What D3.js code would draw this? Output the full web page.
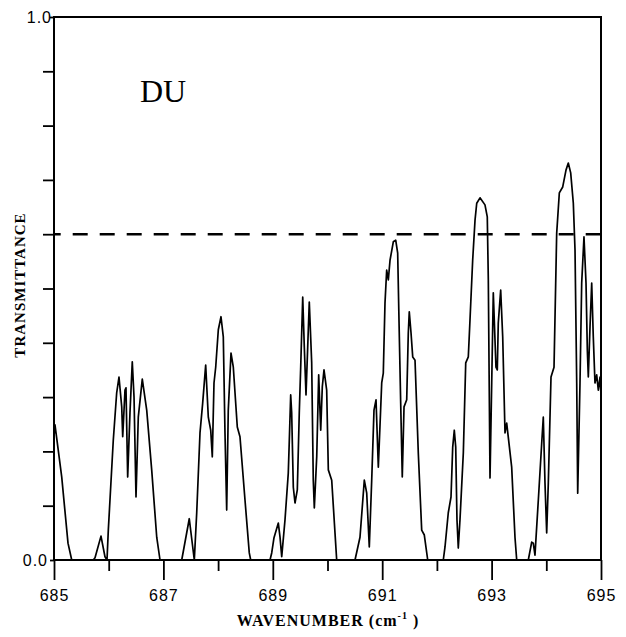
<!DOCTYPE html>
<html>
<head>
<meta charset="utf-8">
<script src="https://cdn.jsdelivr.net/npm/d3@7"></script>
<style>
  body { margin: 0; background: #fff; }
  .tick text { font-family: "Liberation Sans", Arial, sans-serif; }
</style>
</head>
<body>
<div id="chart"></div>
<script>
// transmittance spectrum, one array per band group
const band685 = [[685.000, 0.227], [685.018, 0.249], [685.141, 0.153], [685.256, 0.031], [685.324, 0], [685.718, 0],
    [685.750, 0.004], [685.859, 0.044], [685.932, 0.006], [685.969, 0]];
const band686 = [[685.993, 0.055], [686.084, 0.221], [686.146, 0.308], [686.188, 0.337], [686.238, 0.282], [686.256, 0.227],
    [686.298, 0.313], [686.316, 0.317], [686.347, 0.153], [686.389, 0.271], [686.431, 0.365], [686.463, 0.300],
    [686.499, 0.116], [686.541, 0.263], [686.614, 0.333], [686.695, 0.276], [686.786, 0.166], [686.878, 0.042],
    [686.938, 0], [687.335, 0], [687.473, 0.076], [687.565, 0]];
const band688 = [[687.609, 0.087], [687.669, 0.234], [687.718, 0.289], [687.773, 0.359], [687.821, 0.263], [687.865, 0.239],
    [687.894, 0.190], [687.925, 0.326], [687.956, 0.355], [688.004, 0.424], [688.053, 0.448], [688.095, 0.411],
    [688.126, 0.234], [688.157, 0.092], [688.186, 0.276], [688.236, 0.381], [688.278, 0.355], [688.351, 0.245],
    [688.400, 0.227], [688.492, 0.110], [688.570, 0.013], [688.596, 0], [688.949, 0], [688.980, 0.013],
    [689.022, 0.041], [689.101, 0.068], [689.132, 0.042], [689.163, 0.006]];
const band689 = [[689.223, 0.074], [689.283, 0.160], [689.302, 0.221], [689.327, 0.304], [689.345, 0.271], [689.375, 0.134],
    [689.406, 0.105], [689.448, 0.129], [689.484, 0.271], [689.510, 0.355], [689.547, 0.484], [689.576, 0.392],
    [689.607, 0.304], [689.638, 0.392], [689.667, 0.475], [689.711, 0.363], [689.740, 0.147], [689.759, 0.096],
    [689.803, 0.190], [689.839, 0.341], [689.876, 0.239], [689.905, 0.319], [689.936, 0.350], [689.985, 0.313],
    [690.015, 0.166], [690.077, 0.147], [690.137, 0.050], [690.168, 0], [690.503, 0]];
const band691 = [[690.594, 0.042], [690.673, 0.147], [690.717, 0.123], [690.764, 0.024], [690.808, 0.147], [690.850, 0.276],
    [690.887, 0.295], [690.929, 0.171], [690.991, 0.326], [691.020, 0.344], [691.051, 0.473], [691.082, 0.534],
    [691.112, 0.516], [691.143, 0.552], [691.203, 0.586], [691.247, 0.589], [691.283, 0.565], [691.307, 0.442],
    [691.338, 0.289], [691.367, 0.153], [691.399, 0.282], [691.448, 0.295], [691.477, 0.418], [691.495, 0.457],
    [691.527, 0.418], [691.558, 0.374], [691.600, 0.368], [691.660, 0.197], [691.722, 0.055], [691.770, 0.046],
    [691.832, 0], [692.117, 0]];
const band693 = [[692.148, 0.024], [692.208, 0.087], [692.258, 0.116], [692.289, 0.208], [692.318, 0.239], [692.344, 0.208],
    [692.367, 0.074], [692.391, 0.022], [692.422, 0.074], [692.483, 0.197], [692.527, 0.363], [692.574, 0.374],
    [692.605, 0.442], [692.654, 0.552], [692.697, 0.626], [692.728, 0.657], [692.788, 0.667], [692.879, 0.654],
    [692.921, 0.632], [692.940, 0.516], [692.971, 0.151], [693.002, 0.326], [693.031, 0.492], [693.080, 0.355],
    [693.104, 0.350], [693.122, 0.436], [693.166, 0.497], [693.203, 0.411], [693.245, 0.234], [693.276, 0.252],
    [693.367, 0.171], [693.428, 0.041], [693.459, 0], [693.671, 0]];
const band694 = [[693.733, 0.033], [693.762, 0.031], [693.793, 0.009], [693.854, 0.110], [693.916, 0.215], [693.945, 0.263],
    [693.976, 0.142], [694.007, 0.050], [694.037, 0.142], [694.086, 0.337], [694.141, 0.355], [694.190, 0.602],
    [694.238, 0.676], [694.300, 0.687], [694.360, 0.718], [694.402, 0.731], [694.446, 0.713], [694.494, 0.657],
    [694.525, 0.571], [694.556, 0.326], [694.574, 0.123], [694.616, 0.326], [694.647, 0.510], [694.689, 0.595],
    [694.726, 0.510], [694.750, 0.387], [694.768, 0.337], [694.799, 0.429], [694.830, 0.510], [694.859, 0.411],
    [694.890, 0.326], [694.921, 0.341], [694.951, 0.313], [694.982, 0.337], [695.000, 0.304]];

const xMajorTicks = [685, 687, 689, 691, 693, 695];
const xMinorTicks = [686, 688, 690, 692, 694];
const yTicks = [0, 0.1, 0.2, 0.3, 0.4, 0.5, 0.6, 0.7, 0.8, 0.9, 1.0];
const yLabelled = [0, 1.0];
const referenceLevel = 0.6;
const panelLabel = "DU";

const svgWidth = 626;
const svgHeight = 637;
const margin = { top: 17, right: 25, bottom: 77, left: 54 };
const width = svgWidth - margin.left - margin.right;
const height = svgHeight - margin.top - margin.bottom;

const svg = d3.select("#chart")
    .append("svg")
    .attr("width", svgWidth)
    .attr("height", svgHeight)
    .style("background", "#fff");

const g = svg.append("g")
    .attr("transform", `translate(${margin.left},${margin.top})`);

const x = d3.scaleLinear().domain([685, 695]).range([0, width]);
const y = d3.scaleLinear().domain([0, 1]).range([height, 0]);

// long ticks with numbers on odd wavenumbers, short ones in between
const xMajor = g.append("g")
    .attr("transform", `translate(0,${height})`)
    .call(d3.axisBottom(x).tickValues(xMajorTicks).tickSize(20).tickFormat(d3.format("d")));
xMajor.selectAll("text")
    .attr("y", 41).attr("dy", 0)
    .attr("font-size", "16px")
    .attr("letter-spacing", "1px")
    .attr("fill", "#000");

const xMinor = g.append("g")
    .attr("transform", `translate(0,${height})`)
    .call(d3.axisBottom(x).tickValues(xMinorTicks).tickSize(11).tickFormat(""));

const yAxis = g.append("g")
    .call(d3.axisLeft(y).tickValues(yTicks).tickSize(11)
        .tickFormat(d => yLabelled.includes(d) ? d3.format(".1f")(d) : ""));
yAxis.selectAll(".tick")
    .filter(d => yLabelled.includes(d))
    .select("line").attr("x2", -4);
yAxis.selectAll("text")
    .attr("x", d => d === 0 ? -6 : -2)
    .attr("font-size", "16px")
    .attr("letter-spacing", "1px")
    .attr("fill", "#000");

[xMajor, xMinor, yAxis].forEach(a => {
    a.select(".domain").remove();
    a.selectAll("line").attr("stroke", "#000").attr("stroke-width", 1.8);
});

// frame
g.append("rect")
    .attr("x", 0).attr("y", 0)
    .attr("width", width).attr("height", height)
    .attr("fill", "none")
    .attr("stroke", "#000")
    .attr("stroke-width", 2);

// dashed reference level
g.append("line")
    .attr("x1", x(685)).attr("x2", x(695))
    .attr("y1", y(referenceLevel)).attr("y2", y(referenceLevel))
    .attr("stroke", "#000")
    .attr("stroke-width", 2.4)
    .attr("stroke-dasharray", "15,12")
    .attr("stroke-dashoffset", 8.3);

const spectrum = [].concat(band685, band686, band688, band689, band691, band693, band694);

g.append("path")
    .datum(spectrum)
    .attr("fill", "none")
    .attr("stroke", "#000")
    .attr("stroke-width", 1.7)
    .attr("stroke-linejoin", "round")
    .attr("d", d3.line().x(d => x(d[0])).y(d => y(d[1])));

g.append("text")
    .text(panelLabel)
    .attr("x", 86)
    .attr("y", 85)
    .attr("font-family", "Liberation Serif, Times New Roman, serif")
    .attr("font-size", "32px");

// axis titles
const xTitle = svg.append("text")
    .attr("x", 328)
    .attr("y", 626)
    .attr("text-anchor", "middle")
    .attr("font-family", "Liberation Serif, Times New Roman, serif")
    .attr("font-weight", "bold")
    .attr("font-size", "16px")
    .attr("letter-spacing", "1px");
xTitle.append("tspan").text("WAVENUMBER (cm");
xTitle.append("tspan").text("-1").attr("font-size", "10px").attr("dy", -7);
xTitle.append("tspan").text(" )").attr("dy", 7);

svg.append("text")
    .text("TRANSMITTANCE")
    .attr("transform", "translate(25,285) rotate(-90)")
    .attr("text-anchor", "middle")
    .attr("font-family", "Liberation Serif, Times New Roman, serif")
    .attr("font-weight", "bold")
    .attr("font-size", "15px")
    .attr("letter-spacing", "1px");
</script>
</body>
</html>
